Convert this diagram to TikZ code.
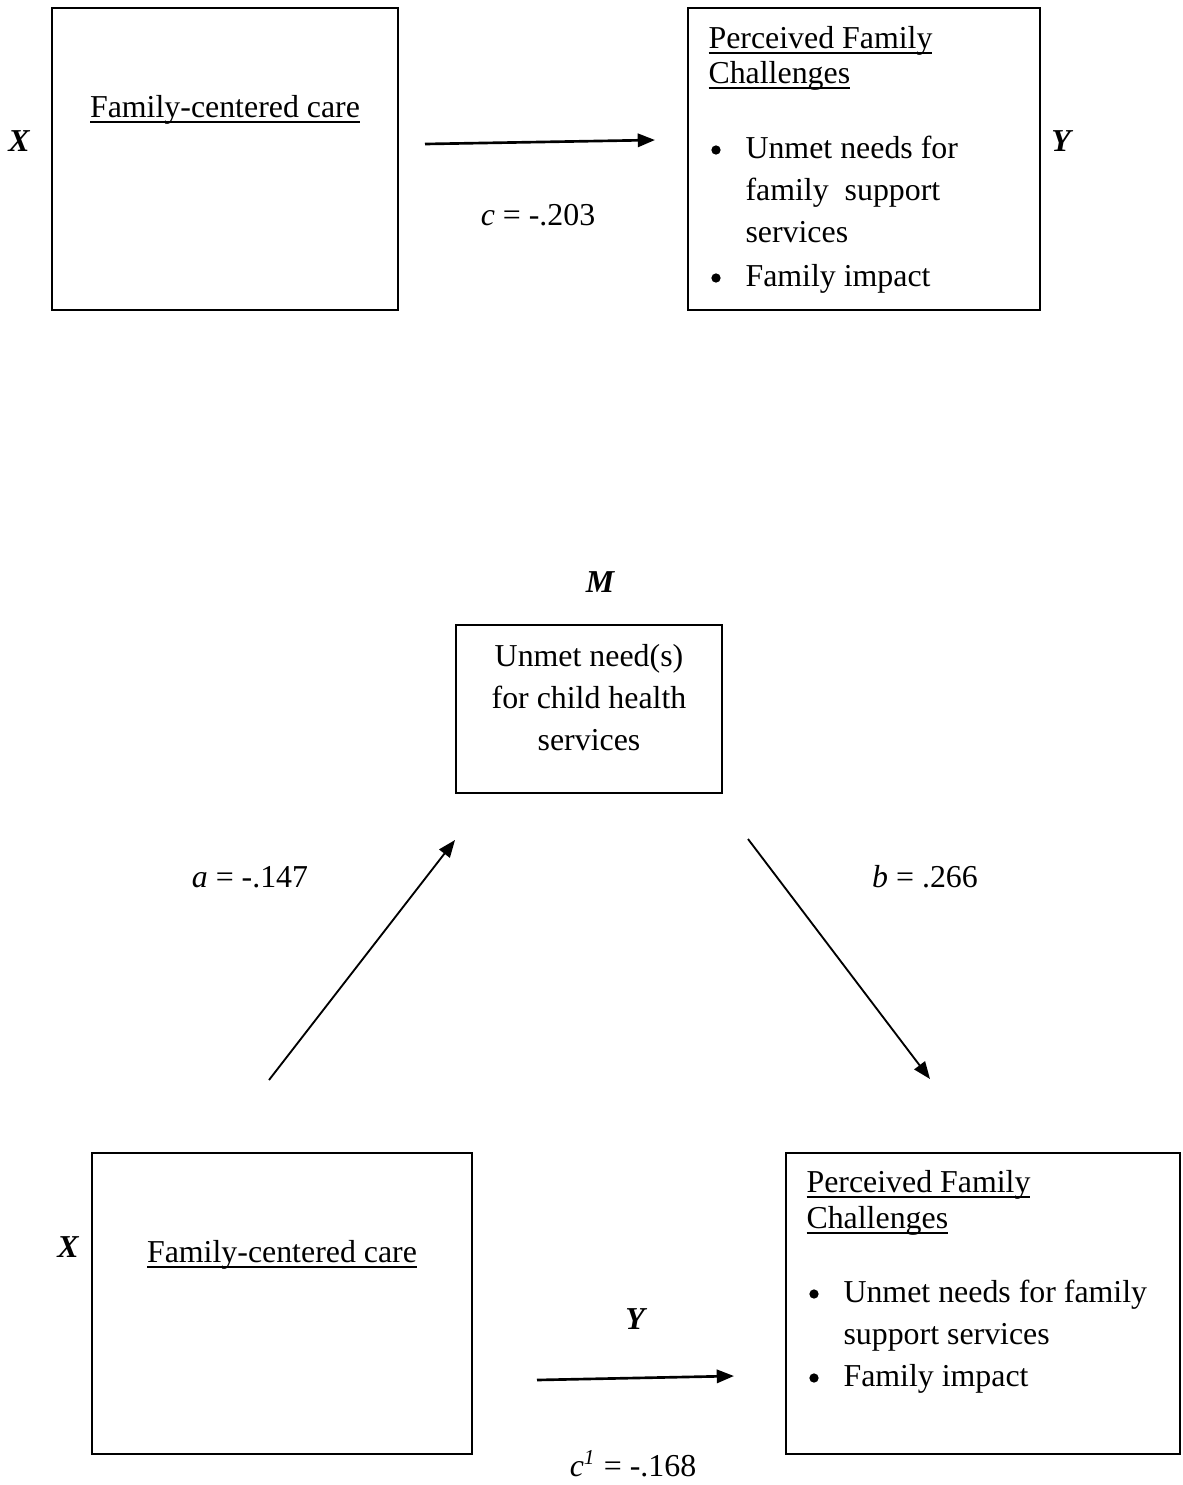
\documentclass[tikz,border=0pt]{standalone}
\usepackage{fontspec}
\setmainfont{Liberation Serif}
\usetikzlibrary{arrows.meta,fit}

% underline closer to the baseline, as a word processor draws it
\newcommand\uln[1]{\setbox0\hbox{#1}\rlap{\rule[-2.3pt]{\wd0}{0.7pt}}\box0}

\tikzset{
  box/.style={draw, line width=0.75pt, inner sep=0pt},
  txt/.style={inner sep=0pt, anchor=base west, font=\fontsize{12pt}{14pt}\selectfont},
  ctxt/.style={txt, anchor=base},
  var/.style={ctxt, font=\fontsize{12pt}{14pt}\selectfont\bfseries\itshape},
  dot/.style={circle, fill, inner sep=0pt, minimum size=3.5pt},
  arr/.style={-{Triangle[length=6.5pt,width=5pt]}, line width=1pt},
}

\begin{document}
\begin{tikzpicture}[x=0.3765pt, y=-0.3765pt]
\useasboundingbox (0,0) rectangle (1183,1485);

% total effect
\node[box, fit={(52,8) (398,310)}] (fcc1) {};
\node[box, fit={(688,8) (1040,310)}] (pfc1) {};
\node[var] (x1) at (19,151) {X};
\node[var] (y1) at (1061,151) {Y};
\node[ctxt] (fcc1t) at (225,117) {\uln{Family-centered care}};
\node[txt] (pfc1h) at (708,48) {\uln{Perceived Family}};
\node[txt] (pfc1g) at (708,83) {\uln{Challenges}};
\node[dot] (pfc1b1) at (716,150) {};
\node[txt] (pfc1i1) at (745,158) {Unmet needs for};
\node[txt] (pfc1i2) at (745,200) {family\ \ support};
\node[txt] (pfc1i3) at (745,242) {services};
\node[dot] (pfc1b2) at (716,278) {};
\node[txt] (pfc1i4) at (745,286) {Family impact};
\coordinate (c1s) at (425,144);
\coordinate (c1e) at (655,140);
\draw[arr] (c1s) -- (c1e);
\node[ctxt] (c1) at (538,225) {\textit{c} = -.203};

% mediation
\node[var] (m) at (600,592) {M};
\node[box, fit={(456,625) (722,793)}] (unm) {};
\node[ctxt] (unm1) at (589,666) {Unmet need(s)};
\node[ctxt] (unm2) at (589,708) {for child health};
\node[ctxt] (unm3) at (589,750) {services};

\node[box, fit={(92,1153) (472,1454)}] (fcc2) {};
\node[box, fit={(786,1153) (1180,1454)}] (pfc2) {};
\node[var] (x2) at (68,1257) {X};
\node[var] (y2) at (635,1329) {Y};
\node[ctxt] (fcc2t) at (282,1262) {\uln{Family-centered care}};
\node[txt] (pfc2h) at (806,1192) {\uln{Perceived Family}};
\node[txt] (pfc2g) at (806,1228) {\uln{Challenges}};
\node[dot] (pfc2b1) at (814,1294) {};
\node[txt] (pfc2i1) at (843,1302) {Unmet needs for family};
\node[txt] (pfc2i2) at (843,1344) {support services};
\node[dot] (pfc2b2) at (814,1378) {};
\node[txt] (pfc2i3) at (843,1386) {Family impact};

\coordinate (as) at (269,1080);
\coordinate (ae) at (455,840);
\coordinate (bs) at (748,839);
\coordinate (be) at (930,1079);
\coordinate (c2s) at (537,1380);
\coordinate (c2e) at (734,1376);
\draw[arr, line width=0.7pt] (as) -- (ae);
\draw[arr, line width=0.7pt] (bs) -- (be);
\draw[arr] (c2s) -- (c2e);
\node[ctxt] (a) at (250,887) {\textit{a} = -.147};
\node[ctxt] (b) at (925,887) {\textit{b} = .266};
\node[ctxt] (c2) at (633,1476) {\textit{c}\textsuperscript{\textit{1}} = -.168};
\end{tikzpicture}
\end{document}
